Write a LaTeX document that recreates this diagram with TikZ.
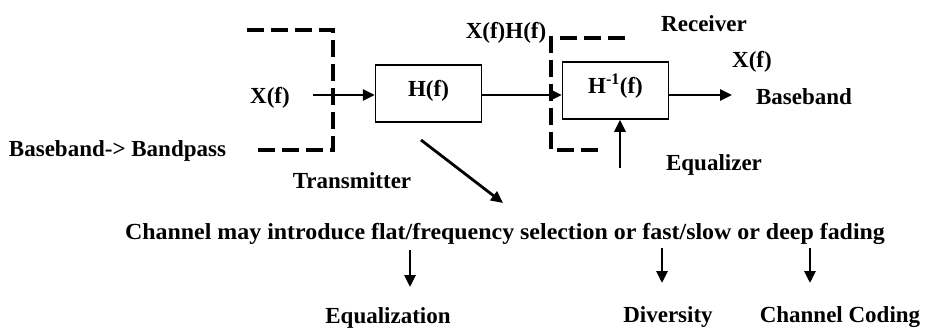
\documentclass[tikz,border=0pt]{standalone}
\usepackage{fontspec}
\setmainfont{Liberation Serif}
\usetikzlibrary{arrows.meta}
\begin{document}
\begin{tikzpicture}[x=1pt,y=-1pt,
  lbl/.style={font=\fontsize{23}{27}\selectfont\bfseries, inner sep=0pt, anchor=base},
  blk/.style={draw, line width=1.5pt, minimum width=106pt, minimum height=57pt, inner sep=0pt,
              text height=14pt, text depth=8pt, font=\fontsize{23}{27}\selectfont\bfseries},
  arr/.style={line width=2.8pt, -{Triangle[length=12pt,width=11pt]}},
  dsh/.style={line width=3.8pt, dash pattern=on 17pt off 7pt}]
\useasboundingbox (0,0) rectangle (927,329);
% blocks
\node[blk] (hf) at (428.5,93.5) {H(f)};
\node[blk] (hinv) at (615.5,90.5) {H\textsuperscript{-1}(f)};
% labels
\node[lbl] (xf) at (270,103) {X(f)};
\node[lbl] (bb) at (117.5,156) {Baseband-> Bandpass};
\node[lbl] (tx) at (352,188) {Transmitter};
\node[lbl] (xfhf) at (506,39) {X(f)H(f)};
\node[lbl] (rx) at (704,32) {Receiver};
\node[lbl] (xfo) at (752,67) {X(f)};
\node[lbl] (bbo) at (804,104) {Baseband};
\node[lbl] (eqz) at (714,170) {Equalizer};
\node[lbl] (ch) at (505,239) {\scalebox{1.04}[1]{Channel may introduce flat/frequency selection or fast/slow or deep fading}};
\node[lbl] (eqn) at (388,323) {Equalization};
\node[lbl] (div) at (668,322) {Diversity};
\node[lbl] (cc) at (840,322) {Channel Coding};
% transmitter dashed outline
\coordinate (t1) at (247,30);
\coordinate (t2) at (333,30);
\coordinate (t3) at (333,150);
\coordinate (t4) at (258,150);
\draw[dsh] (t1) -- (t2) -- (t3) -- (t4);
% receiver dashed outline
\coordinate (r1) at (625,38);
\coordinate (r2) at (551,38);
\coordinate (r3) at (551,150);
\coordinate (r4) at (602,150);
\draw[dsh] (r1) -- (r2) -- (r3) -- (r4);
% signal arrows
\coordinate (xs) at (313,95);
\draw[arr] (xs) -- (xs -| hf.west);
\draw[arr] (hf.east |- xs) -- (hinv.west |- xs);
\coordinate (oe) at (732,95);
\draw[arr] (hinv.east |- oe) -- (oe);
\coordinate (es) at (620,168);
\draw[arr] (es) -- (es |- hinv.south);
% diagonal arrow
\coordinate (d1) at (421,140);
\coordinate (d2) at (503,203);
\draw[arr] (d1) -- (d2);
% down arrows
\coordinate (a1) at (410,250);
\coordinate (a2) at (662,248);
\coordinate (a3) at (810,248);
\draw[arr] (a1) -- ++(0,37);
\draw[arr] (a2) -- ++(0,35);
\draw[arr] (a3) -- ++(0,35);
\end{tikzpicture}
\end{document}
